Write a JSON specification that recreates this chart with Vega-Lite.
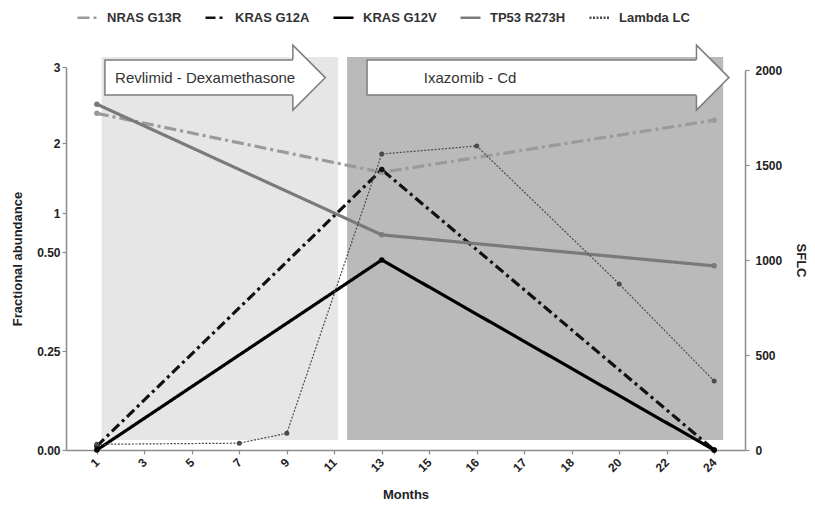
{
  "$schema": "https://vega.github.io/schema/vega-lite/v6.json",
  "width": 679,
  "height": 383,
  "autosize": {"type": "none"},
  "padding": {"left": 66, "top": 67, "right": 70, "bottom": 55},
  "background": "white",
  "config": {
    "view": {"stroke": null},
    "font": "Liberation Sans",
    "axis": {
      "domainColor": "#8c8c8c", "domainWidth": 1.5, "tickColor": "#8c8c8c", "tickWidth": 1.2, "tickSize": 4,
      "labelFont": "Liberation Sans", "labelFontSize": 12, "labelFontWeight": "bold", "labelColor": "#222",
      "titleFont": "Liberation Sans", "titleFontSize": 13, "titleFontWeight": "bold", "titleColor": "#222", "grid": false
    },
    "legend": {
      "orient": "none", "legendX": 10, "legendY": -61, "direction": "horizontal",
      "symbolType": "stroke", "symbolSize": 400, "symbolStrokeWidth": 2.5,
      "labelFont": "Liberation Sans", "labelFontSize": 13, "labelFontWeight": "bold", "labelColor": "#333",
      "labelOffset": 8, "columnPadding": 18, "padding": 0
    }
  },
  "datasets": {
    "abundance": [
      {"series": "NRAS G13R", "month": 1, "abundance": 2.39},
      {"series": "NRAS G13R", "month": 13, "abundance": 1.58},
      {"series": "NRAS G13R", "month": 24, "abundance": 2.30},
      {"series": "KRAS G12A", "month": 1, "abundance": 0.01},
      {"series": "KRAS G12A", "month": 13, "abundance": 1.62},
      {"series": "KRAS G12A", "month": 24, "abundance": 0},
      {"series": "KRAS G12V", "month": 1, "abundance": 0},
      {"series": "KRAS G12V", "month": 13, "abundance": 0.48},
      {"series": "KRAS G12V", "month": 24, "abundance": 0},
      {"series": "TP53 R273H", "month": 1, "abundance": 2.51},
      {"series": "TP53 R273H", "month": 13, "abundance": 0.72},
      {"series": "TP53 R273H", "month": 24, "abundance": 0.465}
    ],
    "sflc": [
      {"series": "Lambda LC", "month": 1, "sflc": 30},
      {"series": "Lambda LC", "month": 7, "sflc": 36},
      {"series": "Lambda LC", "month": 9, "sflc": 88},
      {"series": "Lambda LC", "month": 13, "sflc": 1558},
      {"series": "Lambda LC", "month": 16, "sflc": 1600},
      {"series": "Lambda LC", "month": 20, "sflc": 874},
      {"series": "Lambda LC", "month": 24, "sflc": 363}
    ],
    "regimens": [
      {"regimen": "Revlimid - Dexamethasone", "shade_from": 0.1, "shade_to": 5.08, "arrow_from": 0.17, "arrow_to": 4.15, "head_at": 4.47, "label_at": 2.28},
      {"regimen": "Ixazomib - Cd", "shade_from": 5.27, "shade_to": 13.19, "arrow_from": 5.69, "arrow_to": 12.66, "head_at": 12.97, "label_at": 7.86}
    ]
  },
  "layer": [
    {
      "data": {"name": "regimens"},
      "layer": [
        {
          "mark": {"type": "rect"},
          "encoding": {
            "x": {"field": "shade_from", "type": "quantitative", "scale": {"domain": [-0.65, 13.65], "nice": false, "zero": false}, "axis": null},
            "x2": {"field": "shade_to"},
            "y": {"datum": 52, "type": "quantitative", "scale": {"domain": [0, 2000], "range": [383, 3], "nice": false, "zero": false}, "axis": null},
            "y2": {"datum": 2068},
            "fill": {"field": "regimen", "type": "nominal", "scale": {"domain": ["Revlimid - Dexamethasone", "Ixazomib - Cd"], "range": ["#e6e6e6", "#bababa"]}, "legend": null}
          }
        },
        {
          "mark": {"type": "rect", "fill": "white", "stroke": "#7d7d7d", "strokeWidth": 1.5},
          "encoding": {
            "x": {"field": "arrow_from", "type": "quantitative"},
            "x2": {"field": "arrow_to"},
            "y": {"datum": 1868, "type": "quantitative"},
            "y2": {"datum": 2052}
          }
        },
        {
          "mark": {"type": "point", "shape": "M -0.5 -0.55 L -0.5 -1 L 0.5 0 L -0.5 1 L -0.5 0.55", "size": 4225, "filled": true, "fill": "white", "stroke": "#7d7d7d", "strokeWidth": 1.5, "opacity": 1},
          "encoding": {
            "x": {"field": "head_at", "type": "quantitative"},
            "y": {"datum": 1960, "type": "quantitative"}
          }
        },
        {
          "mark": {"type": "text", "fontSize": 15, "fill": "#333", "align": "center", "baseline": "middle", "font": "Liberation Sans"},
          "encoding": {
            "x": {"field": "label_at", "type": "quantitative"},
            "y": {"datum": 1960, "type": "quantitative"},
            "text": {"field": "regimen"}
          }
        }
      ]
    },
    {
      "data": {"name": "abundance"},
      "mark": {"type": "line", "strokeWidth": 3.2, "point": {"filled": true, "size": 30, "opacity": 1}},
      "encoding": {
        "x": {
          "field": "month", "type": "ordinal",
          "scale": {"type": "point", "domain": [1, 3, 5, 7, 9, 11, 13, 15, 16, 17, 18, 20, 22, 24], "padding": 0.65},
          "axis": {"orient": "bottom", "title": "Months", "labelAngle": -45, "labelAlign": "right", "labelBaseline": "middle", "labelPadding": 6, "titlePadding": 15}
        },
        "y": {
          "field": "abundance", "type": "quantitative",
          "scale": {"domain": [0, 0.5, 1, 2, 3], "range": [383, 185, 146, 76, 0], "nice": false, "zero": false},
          "axis": {"orient": "left", "title": "Fractional abundance", "values": [0, 0.25, 0.5, 1, 2, 3], "labelExpr": "datum.value < 1 ? format(datum.value, '.2f') : format(datum.value, 'd')", "titlePadding": 12}
        },
        "color": {
          "field": "series", "type": "nominal",
          "scale": {"domain": ["NRAS G13R", "KRAS G12A", "KRAS G12V", "TP53 R273H", "Lambda LC"], "range": ["#9a9a9a", "#111111", "#000000", "#7a7a7a", "#4a4a4a"]},
          "legend": {"title": null}
        },
        "strokeDash": {
          "field": "series", "type": "nominal",
          "scale": {"domain": ["NRAS G13R", "KRAS G12A", "KRAS G12V", "TP53 R273H", "Lambda LC"], "range": [[12, 4, 3, 4], [10, 4, 3, 4], [1, 0], [1, 0], [2, 1.5]]},
          "legend": {"title": null}
        }
      }
    },
    {
      "data": {"name": "sflc"},
      "mark": {"type": "line", "strokeWidth": 1.2, "point": {"filled": true, "size": 25, "opacity": 1}},
      "encoding": {
        "x": {
          "field": "month", "type": "ordinal",
          "scale": {"type": "point", "domain": [1, 3, 5, 7, 9, 11, 13, 15, 16, 17, 18, 20, 22, 24], "padding": 0.65},
          "axis": null
        },
        "y": {
          "field": "sflc", "type": "quantitative",
          "scale": {"domain": [0, 2000], "range": [383, 3], "nice": false, "zero": false},
          "axis": {"orient": "right", "title": "SFLC", "values": [0, 500, 1000, 1500, 2000], "format": "d", "labelPadding": 6, "titlePadding": 12}
        },
        "color": {"field": "series", "type": "nominal", "legend": {"title": null}},
        "strokeDash": {"field": "series", "type": "nominal", "legend": {"title": null}}
      }
    }
  ],
  "resolve": {"scale": {"x": "independent", "y": "independent"}}
}
